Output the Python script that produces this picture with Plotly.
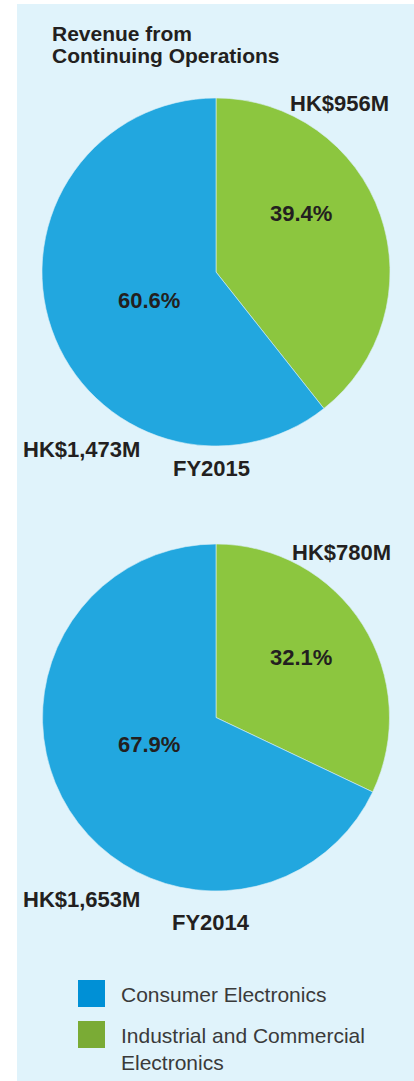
import plotly.graph_objects as go

W, H = 414, 1081

# ---- data ----
segments = ["Industrial and Commercial Electronics", "Consumer Electronics"]
years = ["FY2015", "FY2014"]
revenue_fy2015 = [956, 1473]   # HK$M
revenue_fy2014 = [780, 1653]   # HK$M
legend_labels = ["Consumer Electronics", "Industrial and Commercial<br>Electronics"]

pie_colors = ["#8cc63f", "#22a7df"]
legend_colors = ["#0090d6", "#7aab35"]
TXT = "#231f20"
FONT = "Liberation Sans, Arial, sans-serif"


def px(x):
    return x / W


def py(y):
    return 1 - y / H


fig = go.Figure()

# pies (top: FY2015, bottom: FY2014)
pie_boxes = [(42, 98, 390, 446), (42, 544, 390, 891)]
for vals, (x0, y0, x1, y1) in zip([revenue_fy2015, revenue_fy2014], pie_boxes):
    fig.add_trace(go.Pie(
        labels=segments, values=vals, sort=False, direction="clockwise",
        rotation=0, textinfo="none", hoverinfo="label+value+percent",
        marker=dict(colors=pie_colors, line=dict(color="#d8eef7", width=0.6)),
        domain=dict(x=[px(x0), px(x1)], y=[py(y1), py(y0)]),
        showlegend=False,
    ))

annotations = []


def ann(text, x, y, size=21, bold=True, xanchor="center", color=TXT):
    annotations.append(dict(
        text=f"<b>{text}</b>" if bold else text, x=px(x), y=py(y),
        xref="paper", yref="paper", xanchor=xanchor, yanchor="middle",
        showarrow=False, font=dict(family=FONT, size=size, color=color),
        align="left"))


# title
ann("Revenue from", 50, 33, size=21, xanchor="left")
ann("Continuing Operations", 50, 55, size=21, xanchor="left")

label_pos = [
    dict(green_val=(339, 103), blue_val=(81, 449), green_pct=(301, 213), blue_pct=(149, 300), year=(211, 468)),
    dict(green_val=(341, 552), blue_val=(81, 899), green_pct=(301, 657), blue_pct=(149, 745), year=(211, 922)),
]
for vals, yr, lp in zip([revenue_fy2015, revenue_fy2014], years, label_pos):
    tot = sum(vals)
    ann(f"HK${vals[0]:,}M", *lp["green_val"], size=22)
    ann(f"HK${vals[1]:,}M", *lp["blue_val"], size=22)
    ann(f"{vals[0] / tot * 100:.1f}%", *lp["green_pct"], size=22)
    ann(f"{vals[1] / tot * 100:.1f}%", *lp["blue_pct"], size=22)
    ann(yr, *lp["year"], size=22)

# legend
shapes = [dict(type="rect", xref="paper", yref="paper", x0=px(17), x1=1, y0=0, y1=py(4),
               fillcolor="#e0f3fb", line=dict(width=0), layer="below")]
legend_y = [980, 1021]
for lab, col, y in zip(legend_labels, legend_colors, legend_y):
    shapes.append(dict(type="rect", xref="paper", yref="paper", x0=px(78), x1=px(105),
                       y0=py(y + 27), y1=py(y), fillcolor=col, line=dict(width=0)))
    annotations.append(dict(
        text=lab, x=px(119), y=py(y + 1), xref="paper", yref="paper",
        xanchor="left", yanchor="top", showarrow=False, align="left",
        font=dict(family=FONT, size=21, color="#3a3a3a")))

fig.update_layout(
    width=W, height=H, margin=dict(l=0, r=0, t=0, b=0),
    paper_bgcolor="white", plot_bgcolor="white",
    shapes=shapes, annotations=annotations, showlegend=False,
)

fig.write_html("out.html")
